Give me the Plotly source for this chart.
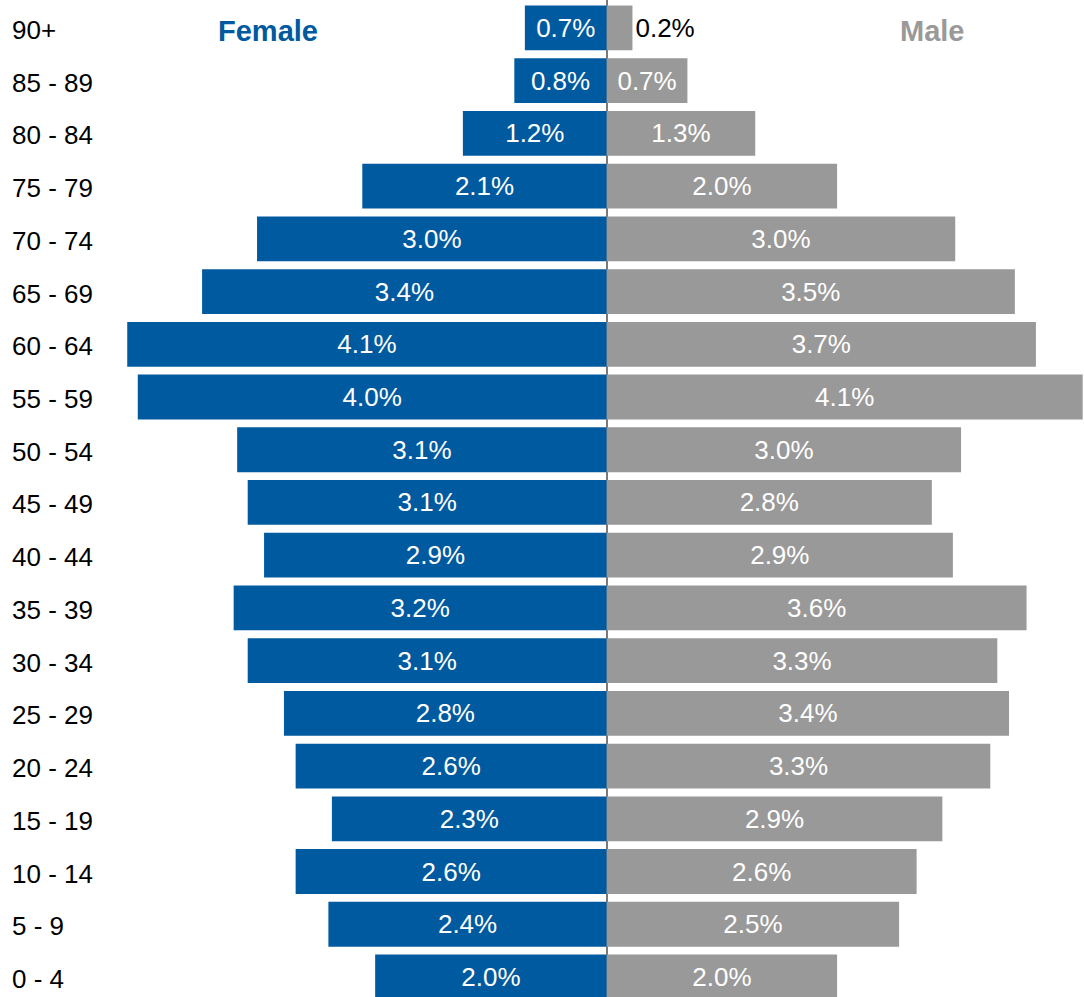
import plotly.graph_objects as go

# age groups, bottom to top
age_groups = ["0 - 4", "5 - 9", "10 - 14", "15 - 19", "20 - 24", "25 - 29", "30 - 34",
              "35 - 39", "40 - 44", "45 - 49", "50 - 54", "55 - 59", "60 - 64",
              "65 - 69", "70 - 74", "75 - 79", "80 - 84", "85 - 89", "90+"]

female_pct = [1.98, 2.38, 2.66, 2.35, 2.66, 2.76, 3.07, 3.19, 2.93, 3.07, 3.16,
              4.01, 4.10, 3.46, 2.99, 2.09, 1.23, 0.79, 0.70]
male_pct = [1.97, 2.50, 2.65, 2.87, 3.28, 3.44, 3.34, 3.59, 2.96, 2.78, 3.03,
            4.07, 3.67, 3.49, 2.98, 1.97, 1.27, 0.69, 0.22]

female_labels = ["2.0%", "2.4%", "2.6%", "2.3%", "2.6%", "2.8%", "3.1%", "3.2%", "2.9%",
                 "3.1%", "3.1%", "4.0%", "4.1%", "3.4%", "3.0%", "2.1%", "1.2%", "0.8%", "0.7%"]
male_labels = ["2.0%", "2.5%", "2.6%", "2.9%", "3.3%", "3.4%", "3.3%", "3.6%", "2.9%",
               "2.8%", "3.0%", "4.1%", "3.7%", "3.5%", "3.0%", "2.0%", "1.3%", "0.7%", "0.2%"]

BLUE = "#005A9F"
GREY = "#999999"
FONT = "Liberation Sans, Arial, sans-serif"
PX_PER_PCT = 117.0

male_pos = ["outside" if v < 0.5 else "inside" for v in male_pct]
male_txtcol = ["black" if v < 0.5 else "white" for v in male_pct]

fig = go.Figure()
fig.add_trace(go.Bar(
    y=age_groups, x=[-v for v in female_pct], orientation="h",
    marker_color=BLUE, marker_line_width=0,
    text=female_labels, textposition="inside", insidetextanchor="middle",
    textfont=dict(color="white", size=26, family=FONT), name="Female",
))
fig.add_trace(go.Bar(
    y=age_groups, x=male_pct, orientation="h",
    marker_color=GREY, marker_line_width=0,
    text=male_labels, textposition=male_pos, insidetextanchor="middle",
    textfont=dict(color=male_txtcol, size=26, family=FONT), name="Male",
    cliponaxis=False,
))

for ag in age_groups:
    fig.add_annotation(x=0.009, xref="paper", y=ag, yref="y", text=ag, showarrow=False,
                       xanchor="left", yshift=-2,
                       font=dict(size=26, color="black", family=FONT))

fig.add_annotation(x=-2.9, y=age_groups[-1], text="<b>Female</b>", showarrow=False,
                   yshift=-3, font=dict(size=29, color=BLUE, family=FONT))
fig.add_annotation(x=2.78, y=age_groups[-1], text="<b>Male</b>", showarrow=False,
                   yshift=-3, font=dict(size=29, color=GREY, family=FONT))

fig.update_layout(
    width=1084, height=997,
    margin=dict(l=0, r=0, t=0, b=0),
    paper_bgcolor="white", plot_bgcolor="white",
    barmode="relative", bargap=0.15, showlegend=False,
    uniformtext=dict(minsize=26, mode="show"),
    font=dict(family=FONT),
)
fig.update_xaxes(range=[-607 / PX_PER_PCT, 477.5 / PX_PER_PCT], showticklabels=False,
                 showgrid=False, zeroline=True, zerolinecolor="#7a7a7a", zerolinewidth=2,
                 layer="above traces")
fig.update_yaxes(range=[-0.38, 18.53], showticklabels=False, showgrid=False, zeroline=False)

fig.write_html("out.html", config={"displayModeBar": False},
               post_script="document.body.style.margin='0';document.body.style.overflow='hidden';")
